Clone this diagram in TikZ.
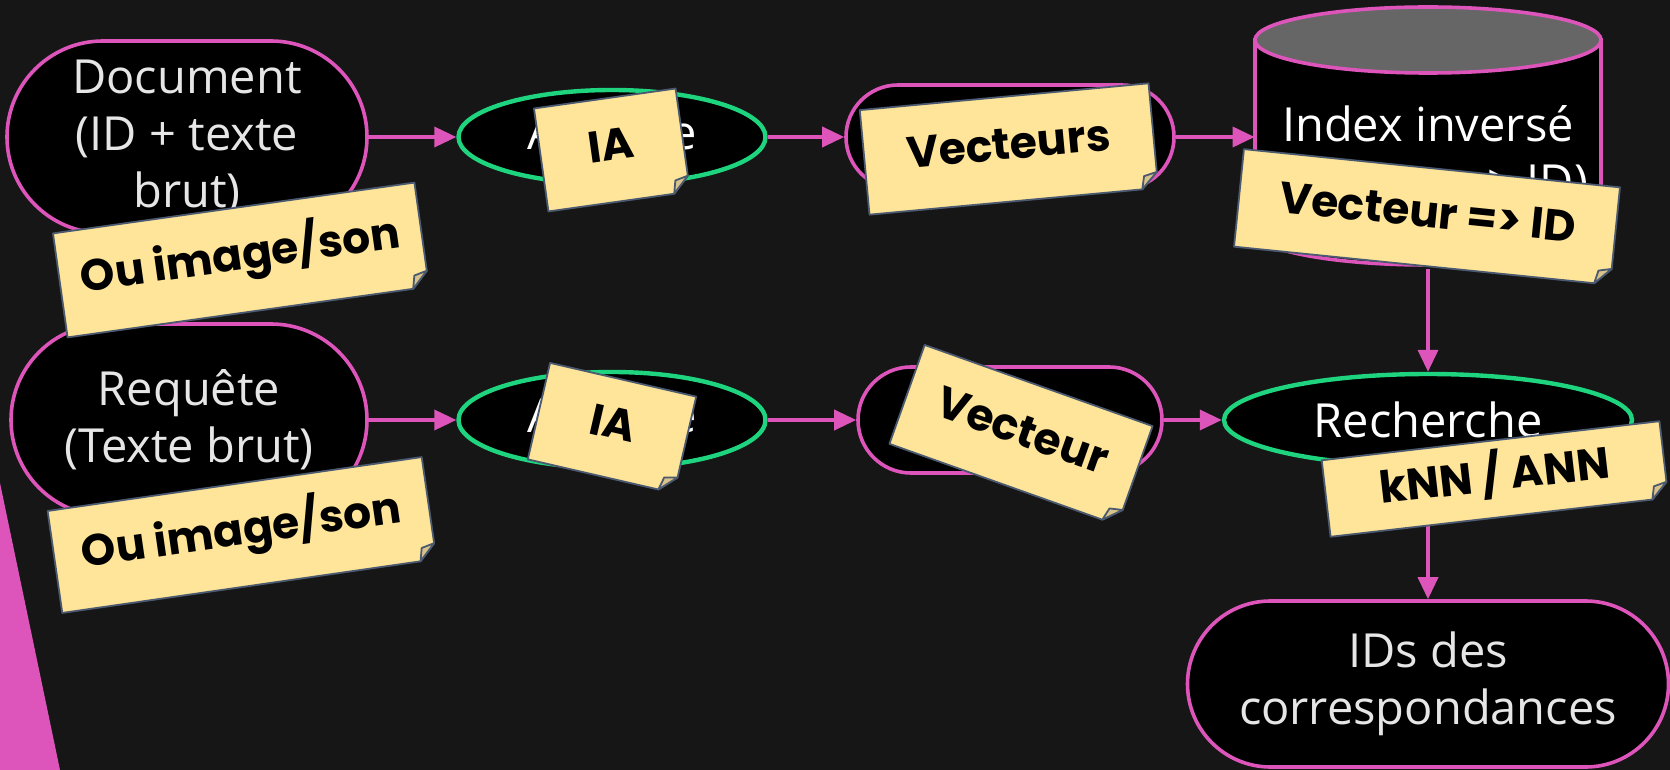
\documentclass[tikz,border=0pt]{standalone}
\usepackage{fontspec}
\setmainfont{Open Sans}
\newfontfamily\notefont{Poppins}
\usepackage{tikz}
\usetikzlibrary{shapes.geometric,arrows.meta,positioning}

\definecolor{bgdark}{HTML}{161616}
\definecolor{pinkline}{HTML}{DD55BB}
\definecolor{greenline}{HTML}{1ED47E}
\definecolor{notefill}{HTML}{FFE599}
\definecolor{noteedge}{HTML}{4B5A70}
\definecolor{notefold}{HTML}{D9C38A}
\definecolor{topgray}{HTML}{666666}
\definecolor{lighttext}{HTML}{E6E6E6}

\tikzstyle{stadium}=[rectangle, draw=pinkline, line width=1.8pt, fill=black, text=lighttext, align=center, font=\fontsize{23.5}{28.5}\selectfont]
\tikzstyle{oval}=[ellipse, draw=greenline, line width=2.2pt, fill=black, text=white, inner sep=0pt, font=\fontsize{23.5}{28.5}\selectfont]
\tikzstyle{flow}=[draw=pinkline, line width=1.8pt, -{Triangle[length=11pt,width=10pt]}]
\tikzstyle{notetext}=[font=\notefont\bfseries\fontsize{22}{26}\selectfont, text=black, inner sep=0pt, transform shape]

% sticky note: name, x, y, angle, width, height, text
\newcommand{\sticky}[7]{%
  \begin{scope}[shift={(#2,#3)}, rotate=#4]
    \draw[fill=notefill, draw=noteedge, line width=0.9pt, line join=round]
      (-#5/2,-#6/2) -- (#5/2,-#6/2) -- (#5/2,#6/2-16) -- (#5/2-16,#6/2) -- (-#5/2,#6/2) -- cycle;
    \draw[fill=notefold, draw=noteedge, line width=0.9pt, line join=round]
      (#5/2,#6/2-16) -- (#5/2-16,#6/2) -- (#5/2-13,#6/2-13) -- cycle;
    \node[notetext] (#1) at (0,-5) {#7};
  \end{scope}}

\begin{document}
\begin{tikzpicture}[x=0.5pt, y=-0.5pt]

\fill[bgdark] (0,0) rectangle (1670,770);
\useasboundingbox (0,0) rectangle (1670,770);
\fill[pinkline] (0,483) -- (60,770) -- (0,770) -- cycle;

% first row
\node[stadium, rounded corners=48pt, minimum width=180pt, minimum height=96pt] (doc) at (187,137) {Document\\(ID + texte\\brut)};
\node[oval, minimum width=153.5pt, minimum height=47pt] (ana1) at (612,137) {Analyse};
\node[stadium, rounded corners=26pt, minimum width=164pt, minimum height=52pt] (vecs) at (1010,137) {};

% index
\draw[pinkline, line width=1.8pt, fill=black] (1255,40) -- (1255,232)
  arc[start angle=180, end angle=0, x radius=173, y radius=33] -- (1601,40) -- cycle;
\draw[pinkline, line width=1.8pt, fill=topgray] (1428,40) ellipse[x radius=173, y radius=33];
\node[minimum width=173pt, minimum height=112.5pt, inner sep=0pt, text=white, align=center, font=\fontsize{23.5}{28.5}\selectfont] (index) at (1428,156) {Index inversé\\(Vecteur => ID)};

% second row
\node[stadium, rounded corners=48pt, minimum width=178pt, minimum height=96pt] (req) at (189,420) {Requête\\(Texte brut)};
\node[oval, minimum width=153.5pt, minimum height=48pt] (ana2) at (612,420) {Analyse};
\node[stadium, rounded corners=26.5pt, minimum width=152pt, minimum height=53pt] (vec) at (1010,420) {};
\node[oval, minimum width=204pt, minimum height=46pt] (search) at (1428,420) {Recherche};
\node[stadium, rounded corners=41.5pt, minimum width=240.5pt, minimum height=83pt] (ids) at (1428,684) {IDs des\\correspondances};

\draw[flow] (doc) -- (ana1);
\draw[flow] (ana1) -- (vecs);
\draw[flow] (vecs) -- (vecs -| index.west);
\draw[flow] (index) -- (search);
\draw[flow] (req) -- (ana2);
\draw[flow] (ana2) -- (vec);
\draw[flow] (vec) -- (search);
\draw[flow] (search) -- (ids);

% notes
\sticky{noteA}{241}{260}{8}{365}{105}{Ou image/son}
\sticky{noteB}{242}{535}{8.2}{378}{103}{Ou image/son}
\sticky{noteC}{612}{150}{8}{143}{104}{IA}
\sticky{noteD}{1009}{149}{5.3}{290}{105}{Vecteurs}
\sticky{noteE}{1427}{217}{-5.8}{378}{98}{Vecteur => ID}
\sticky{noteF}{612}{428}{-13}{150}{99}{IA}
\sticky{noteG}{1021}{435}{-19.6}{242}{105}{Vecteur}
\sticky{noteH}{1495}{479}{6.6}{340}{77}{kNN / ANN}

\end{tikzpicture}
\end{document}
